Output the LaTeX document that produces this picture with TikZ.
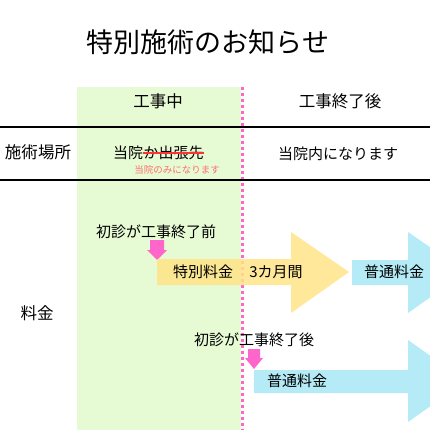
\documentclass[tikz,border=0pt]{standalone}
\usepackage{fontspec}
\setmainfont{Noto Sans CJK JP}
\usepackage{xcolor}
\usepackage{tikz}
\usetikzlibrary{positioning}
\definecolor{PaleGreen}{RGB}{230,250,212}
\definecolor{HotPink}{RGB}{255,102,204}
\definecolor{Butter}{RGB}{255,228,135}
\definecolor{IceBlue}{RGB}{180,235,246}
\definecolor{StrikeRed}{RGB}{255,51,51}
\definecolor{NoteRed}{RGB}{255,110,110}

\begin{document}
\begin{tikzpicture}[x=1pt,y=-1pt,
		txt/.style={inner sep=0pt,text=black,font=\fontsize{15}{15}\selectfont},
		head/.style={txt,font=\fontsize{16.5}{16.5}\selectfont},
		yellowarr/.style={fill=Butter,fill opacity=0.85},
		bluearr/.style={fill=IceBlue},
		pinkarr/.style={fill=HotPink}]
		\useasboundingbox (0,0) rectangle (430,430);
		\clip (0,0) rectangle (430,430);
		
		% 工事中の欄
		\fill[PaleGreen] (77,87) rectangle (241,430);
		\draw[HotPink,line width=3pt,dash pattern=on 3pt off 3pt] (242,87) -- (242,430);
		
		% 区切り線
		\draw[line width=1.1pt] (0,127) -- (430,127);
		\draw[line width=1.1pt] (0,180) -- (430,180);
		
		% タイトル
		\node[txt,font=\fontsize{27}{27}\selectfont] (title) at (208,42) {特別施術のお知らせ};
		
		% 見出し
		\node[head] (during) at (158,101) {工事中};
		\node[head] (after) at (340,101) {工事終了後};
		\node[head] (place) at (38,152) {施術場所};
		\node[head] (fee) at (37,313) {料金};
		
		% 施術場所の行
		\node[txt,anchor=west] (clinic) at (113,153) {当院};
		\node[txt,right=0pt of clinic] (visit) {か出張先};
		\draw[StrikeRed,line width=1.5pt] (visit.west) -- (visit.east);
		\node[txt,text=NoteRed,font=\fontsize{9.5}{9.5}\selectfont] (note) at (177,170) {当院のみになります};
		\node[txt] (inside) at (338,154) {当院内になります};
		
		% 初診が工事終了前
		\node[txt] (before1) at (156,232) {初診が工事終了前};
		\fill[pinkarr] (150,240) -- (164,240) -- (164,250) -- (167,250) -- (157,260)
			-- (147,250) -- (150,250) -- cycle;
		\fill[yellowarr] (157,259) -- (291,259) -- (291,232) -- (349,272) -- (291,313)
			-- (291,285) -- (157,285) -- cycle;
		\fill[bluearr] (352,260) -- (408,260) -- (408,232) -- (466,272) -- (408,313)
			-- (408,285) -- (352,285) -- cycle;
		\node[txt] (special) at (203,272) {特別料金};
		\node[txt] (months) at (276,272) {3カ月間};
		\node[txt] (normal1) at (394,272) {普通料金};
		
		% 初診が工事終了後
		\node[txt] (after2) at (254,340) {初診が工事終了後};
		\fill[pinkarr] (248,349) -- (260,349) -- (260,358) -- (263,358) -- (254,369)
			-- (245,358) -- (248,358) -- cycle;
		\fill[bluearr] (254,370) -- (408,370) -- (408,340) -- (466,381) -- (408,422)
			-- (408,393) -- (254,393) -- cycle;
		\node[txt] (normal2) at (297,381) {普通料金};
	\end{tikzpicture}
\end{document}
